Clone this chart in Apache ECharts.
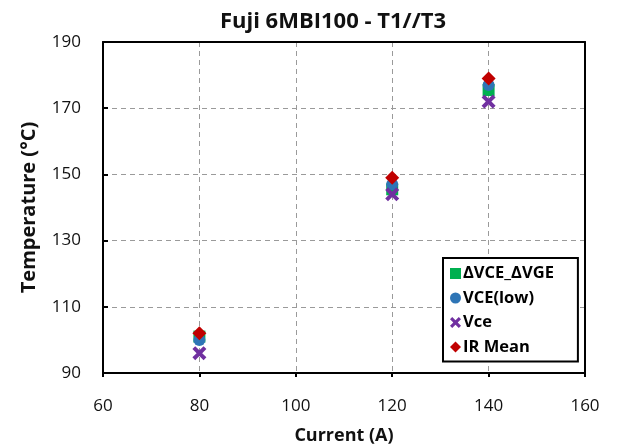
<!DOCTYPE html>
<html>
<head>
<meta charset="utf-8">
<script src="https://cdn.jsdelivr.net/npm/echarts@6/dist/echarts.min.js"></script>
<style>html,body{margin:0;padding:0;background:#fff;}#c{width:617px;height:447px;}</style>
</head>
<body>
<div id="c"></div>
<script>
var currents = [80, 120, 140];
var dVceDVge = [101, 145.5, 175.5];
var vceLow = [100, 147, 177];
var vce = [96, 144, 172];
var irMean = [102, 149, 179];
var seriesNames = ['\u0394VCE_\u0394VGE', 'VCE(low)', 'Vce', 'IR Mean'];
var xTicks = [60, 80, 100, 120, 140, 160];
var yTicks = [90, 110, 130, 150, 170, 190];

function pairs(xs, ys) { return xs.map(function (x, i) { return [x, ys[i]]; }); }

var xPath = 'path://M2,0 L5,3 L8,0 L10,2 L7,5 L10,8 L8,10 L5,7 L2,10 L0,8 L3,5 L0,2 Z';
var FONT = 'Open Sans';
var gridLine = { show: true, showMinLine: false, showMaxLine: false, lineStyle: { color: '#9a9a9a', type: [5, 4], width: 1 } };

var chart = echarts.init(document.getElementById('c'));
chart.setOption({
  animation: false,
  title: {
    text: 'Fuji 6MBI100 - T1//T3',
    left: 328, top: 6, textAlign: 'center',
    textStyle: { fontFamily: FONT, fontWeight: 'bold', fontSize: 22, color: '#111' }
  },
  grid: {
    left: 103, right: 32, top: 42, bottom: 74,
    show: false, outerBoundsMode: 'none', containLabel: false
  },
  legend: {
    orient: 'vertical', left: 443, top: 258,
    backgroundColor: '#fff', borderColor: '#000', borderWidth: 2,
    padding: [7, 24, 6, 7], itemGap: 7.5, itemWidth: 11, itemHeight: 11,
    textStyle: { fontFamily: FONT, fontWeight: 'bold', fontSize: 16.5, color: '#000', padding: [0, 0, 0, -3] },
    data: [
      { name: seriesNames[0], icon: 'rect' },
      { name: seriesNames[1], icon: 'circle' },
      { name: seriesNames[2], icon: xPath },
      { name: seriesNames[3], icon: 'diamond' }
    ]
  },
  xAxis: [{
    type: 'value', min: 60, max: 160, interval: 20,
    name: 'Current (A)', nameLocation: 'middle', nameGap: 54,
    nameTextStyle: { fontFamily: FONT, fontWeight: 'bold', fontSize: 18, color: '#111' },
    axisLine: { show: true, lineStyle: { color: '#000', width: 2 } },
    axisTick: { show: true, inside: false, length: 4, lineStyle: { color: '#000', width: 2 } },
    axisLabel: { fontFamily: FONT, fontSize: 17, color: '#111', margin: 25 },
    splitLine: gridLine
  }, {
    type: 'value', min: 60, max: 160, interval: 20, position: 'top',
    axisLine: { show: true, onZero: false, lineStyle: { color: '#000', width: 2 } },
    axisTick: { show: false }, axisLabel: { show: false }, splitLine: { show: false }
  }],
  yAxis: [{
    type: 'value', min: 90, max: 190, interval: 20,
    name: 'Temperature (\u00b0C)', nameLocation: 'middle', nameGap: 64,
    nameTextStyle: { fontFamily: FONT, fontWeight: 'bold', fontSize: 20, color: '#111' },
    axisLine: { show: true, lineStyle: { color: '#000', width: 2 } },
    axisTick: { show: true, inside: true, length: 5, lineStyle: { color: '#000', width: 2 } },
    axisLabel: { fontFamily: FONT, fontSize: 17, color: '#111', margin: 22 },
    splitLine: gridLine
  }, {
    type: 'value', min: 90, max: 190, interval: 20, position: 'right',
    axisLine: { show: true, onZero: false, lineStyle: { color: '#000', width: 2 } },
    axisTick: { show: false }, axisLabel: { show: false }, splitLine: { show: false }
  }],
  series: [
    { name: seriesNames[0], type: 'scatter', symbol: 'rect', symbolSize: 12,
      itemStyle: { color: '#00B050', opacity: 1 }, data: pairs(currents, dVceDVge) },
    { name: seriesNames[1], type: 'scatter', symbol: 'circle', symbolSize: 12,
      itemStyle: { color: '#2E75B6', opacity: 1 }, data: pairs(currents, vceLow) },
    { name: seriesNames[2], type: 'scatter', symbol: xPath, symbolSize: 14,
      itemStyle: { color: '#7030A0', opacity: 1 }, data: pairs(currents, vce) },
    { name: seriesNames[3], type: 'scatter', symbol: 'diamond', symbolSize: 14,
      itemStyle: { color: '#C00000', opacity: 1 }, data: pairs(currents, irMean) }
  ]
});
</script>
</body>
</html>
